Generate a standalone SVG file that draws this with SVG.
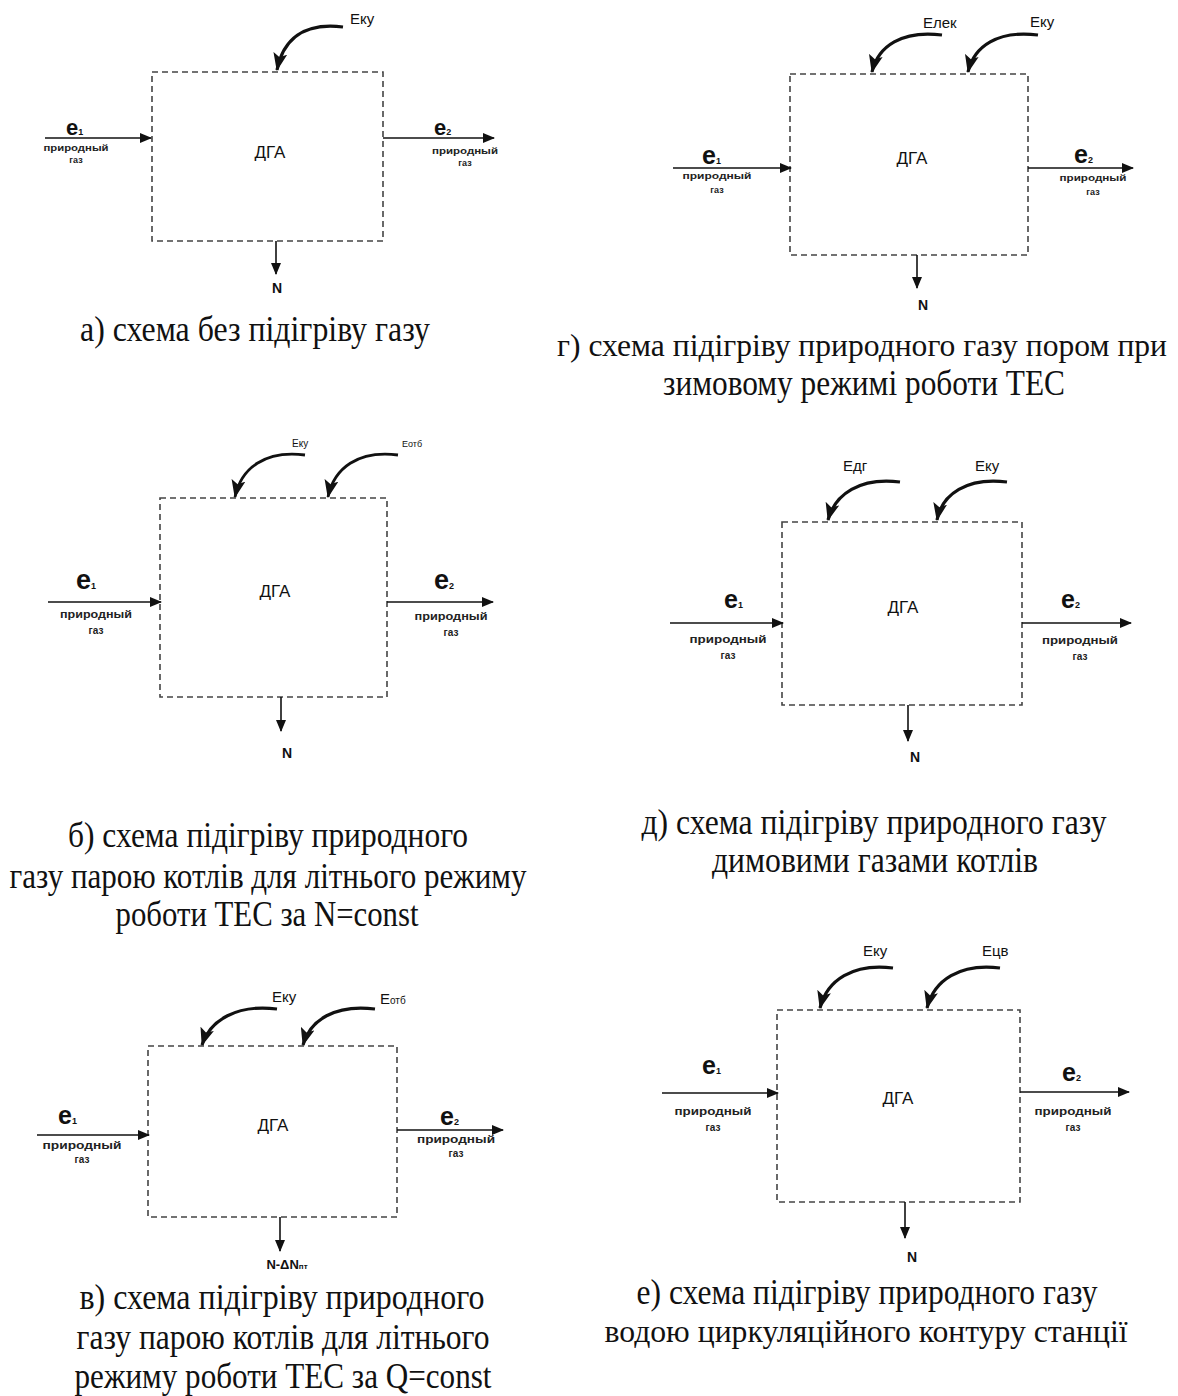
<svg xmlns="http://www.w3.org/2000/svg" width="1178" height="1396" viewBox="0 0 1178 1396">
<defs>
<style>
.box{fill:none;stroke:#444;stroke-width:1.6;stroke-dasharray:6 4}
.ln{fill:none;stroke:#111;stroke-width:1.6}
.cv{fill:none;stroke:#111;stroke-width:3.2}
.dga{font-family:"Liberation Sans",Arial,sans-serif;font-size:17px;text-anchor:middle;fill:#111}
.e{font-family:"Liberation Sans",Arial,sans-serif;font-size:25px;font-weight:bold;fill:#111}
.sub{font-size:9px}
.sm{font-family:"Liberation Sans",Arial,sans-serif;font-size:10px;font-weight:bold;text-anchor:middle;fill:#222}
.lbl{font-family:"Liberation Sans",Arial,sans-serif;font-size:15px;fill:#111}
.N{font-family:"Liberation Sans",Arial,sans-serif;font-size:14px;font-weight:bold;text-anchor:middle;fill:#111}
.cap{font-family:"Liberation Serif","Times New Roman",serif;font-size:35px;text-anchor:middle;fill:#111}
.capw{font-size:32px}
</style>
<marker id="ah" markerUnits="userSpaceOnUse" viewBox="0 0 12 10" markerWidth="12" markerHeight="10" refX="11" refY="5" orient="auto"><path d="M0,0 L12,5 L0,10 z" fill="#111"/></marker>
<marker id="ahc" markerUnits="userSpaceOnUse" viewBox="0 0 18 14" markerWidth="18" markerHeight="14" refX="17" refY="7" orient="auto"><path d="M0,0 L18,7 L0,14 L4,7 z" fill="#111"/></marker>
</defs>
<rect width="1178" height="1396" fill="#fff"/>

<!-- Panel a -->
<g id="node-a"><rect class="box" x="152" y="72" width="231" height="169"/><text class="dga" x="270" y="158">ДГА</text></g>
<g id="connectors-a">
<path class="cv" d="M343,27 C303,22 283,40 277,70" marker-end="url(#ahc)"/>
<text class="lbl" x="350" y="24">Eку</text>
<line class="ln" x1="45" y1="138" x2="151" y2="138" marker-end="url(#ah)"/>
<text class="e" x="66" y="135" style="font-size:22px">e<tspan class="sub">1</tspan></text>
<text class="sm" x="76" y="151" textLength="65" lengthAdjust="spacingAndGlyphs" style="font-size:9px">природный</text>
<text class="sm" x="76" y="163" style="font-size:9px">газ</text>
<line class="ln" x1="383" y1="138" x2="494" y2="138" marker-end="url(#ah)"/>
<text class="e" x="434" y="135" style="font-size:22px">e<tspan class="sub">2</tspan></text>
<text class="sm" x="465" y="154" textLength="66" lengthAdjust="spacingAndGlyphs" style="font-size:9px">природный</text>
<text class="sm" x="465" y="166" style="font-size:9px">газ</text>
<line class="ln" x1="276" y1="241" x2="276" y2="274" marker-end="url(#ah)"/>
<text class="N" x="277" y="293">N</text>
</g>
<text class="cap" x="255" y="341" textLength="350" lengthAdjust="spacingAndGlyphs">а) схема без підігріву газу</text>

<!-- Panel г -->
<g id="node-g"><rect class="box" x="790" y="74" width="238" height="181"/><text class="dga" x="912" y="164">ДГА</text></g>
<g id="connectors-g">
<path class="cv" d="M942,35 C902,30 878,46 872,72" marker-end="url(#ahc)"/>
<path class="cv" d="M1038,35 C998,30 974,46 968,72" marker-end="url(#ahc)"/>
<text class="lbl" x="923" y="28">Eлек</text>
<text class="lbl" x="1030" y="27">Eку</text>
<line class="ln" x1="673" y1="168" x2="791" y2="168" marker-end="url(#ah)"/>
<text class="e" x="702" y="164">e<tspan class="sub">1</tspan></text>
<text class="sm" x="717" y="179" textLength="69" lengthAdjust="spacingAndGlyphs" style="font-size:9px">природный</text>
<text class="sm" x="717" y="193" style="font-size:9px">газ</text>
<line class="ln" x1="1028" y1="168" x2="1133" y2="168" marker-end="url(#ah)"/>
<text class="e" x="1074" y="163">e<tspan class="sub">2</tspan></text>
<text class="sm" x="1093" y="181" textLength="67" lengthAdjust="spacingAndGlyphs" style="font-size:9px">природный</text>
<text class="sm" x="1093" y="195" style="font-size:9px">газ</text>
<line class="ln" x1="917" y1="255" x2="917" y2="288" marker-end="url(#ah)"/>
<text class="N" x="923" y="310">N</text>
</g>
<text class="cap capw" x="862" y="356" textLength="610" lengthAdjust="spacingAndGlyphs">г) схема підігріву природного газу пором при</text>
<text class="cap" x="864" y="395" textLength="402" lengthAdjust="spacingAndGlyphs">зимовому режимі роботи ТЕС</text>

<!-- Panel б -->
<g id="node-b"><rect class="box" x="160" y="498" width="227" height="199"/><text class="dga" x="275" y="597">ДГА</text></g>
<g id="connectors-b">
<path class="cv" d="M305,455 C265,450 241,468 235,497" marker-end="url(#ahc)" style="stroke-width:2.8"/>
<path class="cv" d="M398,455 C358,450 334,468 328,497" marker-end="url(#ahc)" style="stroke-width:2.8"/>
<text class="lbl" x="292" y="447" style="font-size:10px">Eку</text>
<text class="lbl" x="402" y="447" style="font-size:9px">Eотб</text>
<line class="ln" x1="48" y1="602" x2="161" y2="602" marker-end="url(#ah)"/>
<text class="e" x="76" y="589" style="font-size:27px">e<tspan class="sub">1</tspan></text>
<text class="sm" x="96" y="618" textLength="72" lengthAdjust="spacingAndGlyphs">природный</text>
<text class="sm" x="96" y="634">газ</text>
<line class="ln" x1="387" y1="602" x2="493" y2="602" marker-end="url(#ah)"/>
<text class="e" x="434" y="589" style="font-size:27px">e<tspan class="sub">2</tspan></text>
<text class="sm" x="451" y="620" textLength="73" lengthAdjust="spacingAndGlyphs">природный</text>
<text class="sm" x="451" y="636">газ</text>
<line class="ln" x1="281" y1="697" x2="281" y2="731" marker-end="url(#ah)"/>
<text class="N" x="287" y="758">N</text>
</g>
<text class="cap" x="268" y="847" textLength="400" lengthAdjust="spacingAndGlyphs">б) схема підігріву природного</text>
<text class="cap" x="268" y="888" textLength="517" lengthAdjust="spacingAndGlyphs">газу парою котлів для літнього режиму</text>
<text class="cap" x="267" y="926" textLength="303" lengthAdjust="spacingAndGlyphs">роботи ТЕС за N=const</text>

<!-- Panel д -->
<g id="node-d"><rect class="box" x="782" y="522" width="240" height="183"/><text class="dga" x="903" y="613">ДГА</text></g>
<g id="connectors-d">
<path class="cv" d="M900,482 C860,477 835,494 828,520" marker-end="url(#ahc)"/>
<path class="cv" d="M1007,482 C967,477 942,494 937,520" marker-end="url(#ahc)"/>
<text class="lbl" x="843" y="471">Eдг</text>
<text class="lbl" x="975" y="471">Eку</text>
<line class="ln" x1="670" y1="623" x2="783" y2="623" marker-end="url(#ah)"/>
<text class="e" x="724" y="608">e<tspan class="sub">1</tspan></text>
<text class="sm" x="728" y="643" textLength="77" lengthAdjust="spacingAndGlyphs">природный</text>
<text class="sm" x="728" y="659">газ</text>
<line class="ln" x1="1022" y1="623" x2="1131" y2="623" marker-end="url(#ah)"/>
<text class="e" x="1061" y="608">e<tspan class="sub">2</tspan></text>
<text class="sm" x="1080" y="644" textLength="76" lengthAdjust="spacingAndGlyphs">природный</text>
<text class="sm" x="1080" y="660">газ</text>
<line class="ln" x1="908" y1="705" x2="908" y2="741" marker-end="url(#ah)"/>
<text class="N" x="915" y="762">N</text>
</g>
<text class="cap" x="874" y="834" textLength="465" lengthAdjust="spacingAndGlyphs">д) схема підігріву природного газу</text>
<text class="cap" x="875" y="872" textLength="326" lengthAdjust="spacingAndGlyphs">димовими газами котлів</text>

<!-- Panel в -->
<g id="node-v"><rect class="box" x="148" y="1046" width="249" height="171"/><text class="dga" x="273" y="1131">ДГА</text></g>
<g id="connectors-v">
<path class="cv" d="M277,1009 C237,1004 210,1020 202,1045" marker-end="url(#ahc)"/>
<path class="cv" d="M375,1009 C335,1004 310,1020 303,1045" marker-end="url(#ahc)"/>
<text class="lbl" x="272" y="1002">Eку</text>
<text class="lbl" x="380" y="1004">E<tspan style="font-size:10px">отб</tspan></text>
<line class="ln" x1="37" y1="1135" x2="149" y2="1135" marker-end="url(#ah)"/>
<text class="e" x="58" y="1124">e<tspan class="sub">1</tspan></text>
<text class="sm" x="82" y="1149" textLength="79" lengthAdjust="spacingAndGlyphs">природный</text>
<text class="sm" x="82" y="1163">газ</text>
<line class="ln" x1="397" y1="1130" x2="503" y2="1130" marker-end="url(#ah)"/>
<text class="e" x="440" y="1125">e<tspan class="sub">2</tspan></text>
<text class="sm" x="456" y="1143" textLength="78" lengthAdjust="spacingAndGlyphs">природный</text>
<text class="sm" x="456" y="1157">газ</text>
<line class="ln" x1="280" y1="1217" x2="280" y2="1251" marker-end="url(#ah)"/>
<text class="N" x="287" y="1269" style="font-size:13px">N-ΔN<tspan style="font-size:8px">пт</tspan></text>
</g>
<text class="cap" x="282" y="1309" textLength="405" lengthAdjust="spacingAndGlyphs">в) схема підігріву природного</text>
<text class="cap" x="283" y="1349" textLength="413" lengthAdjust="spacingAndGlyphs">газу парою котлів для літнього</text>
<text class="cap" x="283" y="1388" textLength="417" lengthAdjust="spacingAndGlyphs">режиму роботи ТЕС за Q=const</text>

<!-- Panel е -->
<g id="node-e"><rect class="box" x="777" y="1010" width="243" height="192"/><text class="dga" x="898" y="1104">ДГА</text></g>
<g id="connectors-e">
<path class="cv" d="M893,968 C853,963 827,980 820,1008" marker-end="url(#ahc)"/>
<path class="cv" d="M1000,968 C960,963 934,980 927,1008" marker-end="url(#ahc)"/>
<text class="lbl" x="863" y="956">Eку</text>
<text class="lbl" x="982" y="956">Eцв</text>
<line class="ln" x1="662" y1="1093" x2="778" y2="1093" marker-end="url(#ah)"/>
<text class="e" x="702" y="1074">e<tspan class="sub">1</tspan></text>
<text class="sm" x="713" y="1115" textLength="77" lengthAdjust="spacingAndGlyphs">природный</text>
<text class="sm" x="713" y="1131">газ</text>
<line class="ln" x1="1020" y1="1092" x2="1129" y2="1092" marker-end="url(#ah)"/>
<text class="e" x="1062" y="1081">e<tspan class="sub">2</tspan></text>
<text class="sm" x="1073" y="1115" textLength="77" lengthAdjust="spacingAndGlyphs">природный</text>
<text class="sm" x="1073" y="1131">газ</text>
<line class="ln" x1="905" y1="1202" x2="905" y2="1238" marker-end="url(#ah)"/>
<text class="N" x="912" y="1262">N</text>
</g>
<text class="cap" x="867" y="1304" textLength="461" lengthAdjust="spacingAndGlyphs">е) схема підігріву природного газу</text>
<text class="cap capw" x="866" y="1342" textLength="523" lengthAdjust="spacingAndGlyphs">водою циркуляційного контуру станції</text>
</svg>
